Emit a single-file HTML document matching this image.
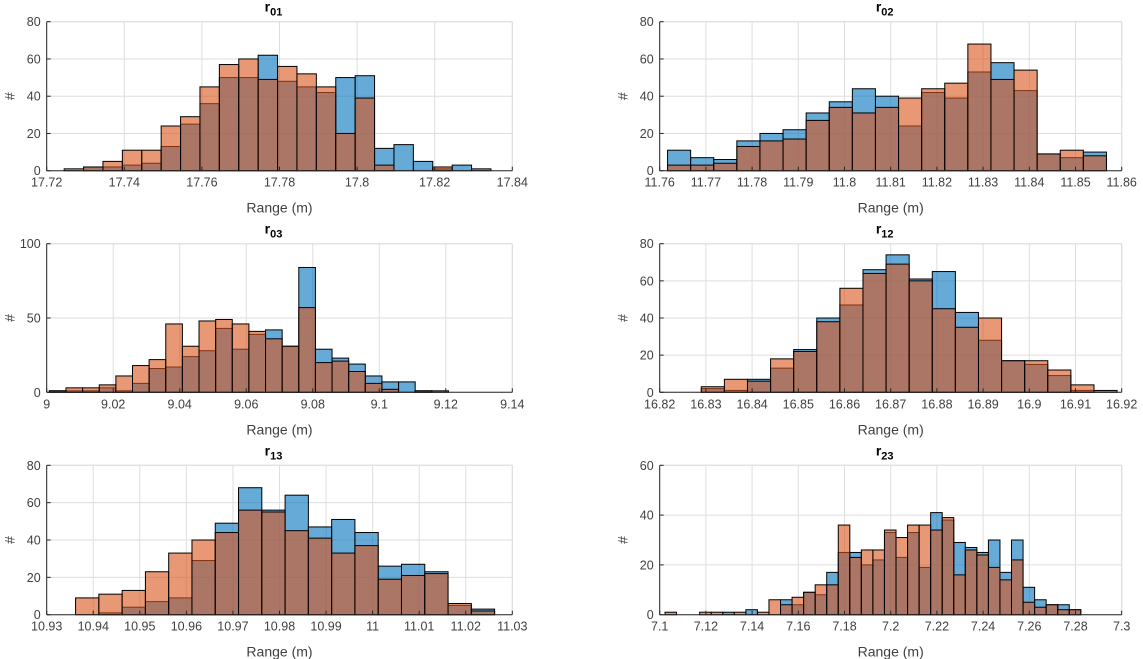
<!DOCTYPE html>
<html><head><meta charset="utf-8"><style>
body{margin:0;background:#fff;}
svg{display:block;font-family:"Liberation Sans",Arial,sans-serif;}
</style></head><body>
<svg id="c" width="1143" height="659" viewBox="0 0 1143 659"></svg>
<script>
// ---- data ----
const titles = ["01","02","03","12","13","23"];
const binStart = [17.7245, 11.7617, 9.0008, 16.829, 10.9362, 7.1023];
const binWidth = [0.005, 0.005, 0.005, 0.005, 0.005, 0.005];
const blue01 = [0,2,2,3,4,13,25,36,50,50,62,48,45,42,50,51,12,14,5,1,3,1];
const orange01 = [1,2,5,11,11,24,29,45,57,60,49,56,52,45,20,39,3,0,0,2,0,0];
const blue02 = [11,7,6,16,20,22,31,37,44,40,24,42,39,53,58,43,9,7,10];
const orange02 = [3,3,4,13,16,17,27,34,31,34,39,44,47,68,49,54,9,11,8];
const blue03 = [1,1,1,3,1,6,16,17,24,28,43,29,39,42,31,84,29,23,19,11,7,7,1,1];
const orange03 = [1,3,3,5,11,18,22,46,31,48,49,46,41,36,31,57,20,21,14,6,2,0,1,0];
const blue12 = [2,1,7,13,23,40,47,66,74,61,65,43,28,17,15,9,1,1];
const orange12 = [3,7,6,18,22,38,56,64,69,60,45,35,40,17,17,12,4,0];
const blue13 = [0,1,4,7,9,29,49,68,56,64,47,51,44,26,27,23,5,3];
const orange13 = [9,11,13,23,33,40,44,56,55,45,41,33,37,19,21,22,6,2];
const blue23 = [0,0,0,0,0,1,0,2,0,0,6,4,9,8,17,25,25,20,22,33,23,33,19,41,38,29,27,25,30,17,30,11,6,4,4,2];
const orange23 = [1,0,0,1,1,0,1,0,1,6,4,7,9,12,12,36,23,26,26,34,31,36,36,34,39,16,26,24,19,14,22,5,3,4,2,2];
const xMin = [17.72, 11.76, 9, 16.82, 10.93, 7.1];
const xMax = [17.84, 11.86, 9.14, 16.92, 11.03, 7.3];
const xTicks = [
 ["17.72","17.74","17.76","17.78","17.8","17.82","17.84"],
 ["11.76","11.77","11.78","11.79","11.8","11.81","11.82","11.83","11.84","11.85","11.86"],
 ["9","9.02","9.04","9.06","9.08","9.1","9.12","9.14"],
 ["16.82","16.83","16.84","16.85","16.86","16.87","16.88","16.89","16.9","16.91","16.92"],
 ["10.93","10.94","10.95","10.96","10.97","10.98","10.99","11","11.01","11.02","11.03"],
 ["7.1","7.12","7.14","7.16","7.18","7.2","7.22","7.24","7.26","7.28","7.3"]];
const yMax = [80,80,100,80,80,60];
const yTicks = [[0,20,40,60,80],[0,20,40,60,80],[0,50,100],[0,20,40,60,80],[0,20,40,60,80],[0,20,40,60]];
const blues = [blue01,blue02,blue03,blue12,blue13,blue23];
const oranges = [orange01,orange02,orange03,orange12,orange13,orange23];

const NS="http://www.w3.org/2000/svg";
const svg=document.getElementById('c');
function mk(tag,attrs,parent){const e=document.createElementNS(NS,tag);for(const k in attrs)e.setAttribute(k,attrs[k]);(parent||svg).appendChild(e);return e;}
const boxes=[[46.7,512.3,21.7,170.7],[659.7,1121.7,21.7,170.7],[46.7,512.3,243.7,392.3],[659.7,1121.7,243.7,392.3],[46.7,512.3,465.3,614.7],[659.7,1121.7,465.3,614.7]];
for(let p=0;p<6;p++){
 const [L,R,T,B]=boxes[p];
 const g=mk('g',{});
 
 
 const sx=v=>L+(v-xMin[p])/(xMax[p]-xMin[p])*(R-L);
 const sy=v=>B-v/yMax[p]*(B-T);
 xTicks[p].forEach(t=>{const x=sx(parseFloat(t));const l=mk('line',{x1:x,x2:x,y1:T,y2:B,stroke:'#dedede','stroke-width':1},g);});
 yTicks[p].forEach(t=>{const y=sy(t);const l=mk('line',{x1:L,x2:R,y1:y,y2:y,stroke:'#dedede','stroke-width':1},g);});
 mk('line',{x1:L,x2:R,y1:T,y2:T,stroke:'#dedede'},g);
 mk('line',{x1:R,x2:R,y1:T,y2:B,stroke:'#dedede'},g);
 [[blues[p],'#0072bd','blue'],[oranges[p],'#d95319','orange']].forEach(([arr,col,nm])=>{
  arr.forEach((v,i)=>{
   const x0=sx(binStart[p]+i*binWidth[p]), x1=sx(binStart[p]+(i+1)*binWidth[p]);
   const r=mk('rect',{x:x0,y:sy(v),width:x1-x0,height:B-sy(v),fill:col,'fill-opacity':0.6,stroke:'#000','stroke-width':1},g);
   
   
  });
 });
 mk('line',{x1:L,x2:R,y1:B,y2:B,stroke:'#262626','stroke-width':1},g);
 mk('line',{x1:L,x2:L,y1:T,y2:B,stroke:'#262626','stroke-width':1},g);
 xTicks[p].forEach(t=>{const x=sx(parseFloat(t));
  mk('line',{x1:x,x2:x,y1:B,y2:B-4,stroke:'#262626'},g);
  const tx=mk('text',{x:x,y:B+16,'text-anchor':'middle','font-size':12.5,fill:'#404040'},g);tx.textContent=t;
  });
 yTicks[p].forEach(t=>{const y=sy(t);
  mk('line',{x1:L,x2:L+4,y1:y,y2:y,stroke:'#262626'},g);
  const tx=mk('text',{x:L-6,y:y+4.5,'text-anchor':'end','font-size':12.5,fill:'#404040'},g);tx.textContent=t;
  });
 const xl=mk('text',{x:(L+R)/2,y:B+42,'text-anchor':'middle','font-size':14,fill:'#404040'},g);xl.textContent='Range (m)';
 
 const yl=mk('text',{x:0,y:0,'text-anchor':'middle','font-size':14,fill:'#404040',transform:`translate(${L-32},${(T+B)/2}) rotate(-90)`},g);yl.textContent='#';
 
 const tt=mk('text',{x:(L+R)/2-6,y:T-10,'text-anchor':'middle','font-size':14,'font-weight':'bold',fill:'#000'},g);
 
 tt.appendChild(document.createTextNode('r'));
 const sub=document.createElementNS(NS,'tspan');sub.setAttribute('dy','4');sub.setAttribute('font-size','11');sub.textContent=titles[p];tt.appendChild(sub);
}
</script>
</body></html>
